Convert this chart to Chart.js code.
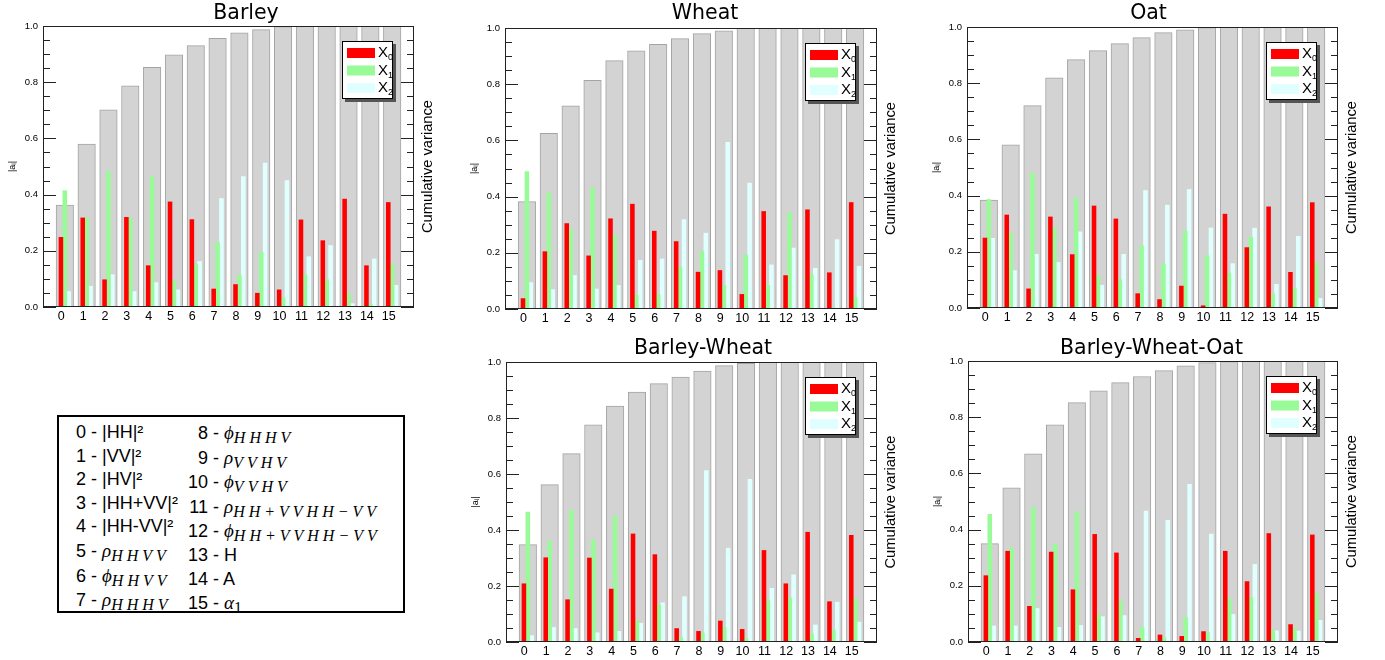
<!DOCTYPE html>
<html>
<head>
<meta charset="utf-8">
<script src="https://cdn.jsdelivr.net/npm/chart.js@4.4.1/dist/chart.umd.min.js"></script>
<style>
  body { margin: 0; background: #fff; width: 1385px; height: 660px; overflow: hidden; position: relative; }
  canvas { position: absolute; }
  #key { position: absolute; left: 57px; top: 415px; width: 348px; height: 198px; border: 2px solid #000;
         box-sizing: border-box; font: 18px "Liberation Sans", Arial, sans-serif; color: #000; }
  #key .col { position: absolute; top: 4px; line-height: 23.6px; white-space: nowrap; }
  #key .c1 { left: 17px; }
  #key .c2 { left: 127px; }
  #key .n { display: inline-block; width: 33px; text-align: right; }
  #key i { font-family: "Liberation Serif", "DejaVu Serif", serif; font-size: 19px; }
  #key sub { font-family: "Liberation Serif", "DejaVu Serif", serif; font-style: italic; font-size: 16px;
             letter-spacing: 4px; vertical-align: -4px; line-height: 0; }
  #key sub.up { font-style: normal; letter-spacing: 0; }
</style>
</head>
<body>
<canvas id="barley" width="492" height="330" style="left:0px;top:0px"></canvas>
<canvas id="wheat" width="490" height="330" style="left:460px;top:0px"></canvas>
<canvas id="oat" width="457" height="330" style="left:920px;top:0px"></canvas>
<canvas id="bw" width="486" height="330" style="left:460px;top:330px"></canvas>
<canvas id="bwo" width="463" height="330" style="left:920px;top:330px"></canvas>

<div id="key">
  <div class="col c1">
    <div>0 - |HH|²</div>
    <div>1 - |VV|²</div>
    <div>2 - |HV|²</div>
    <div>3 - |HH+VV|²</div>
    <div>4 - |HH-VV|²</div>
    <div>5 - <i>ρ</i><sub>HHVV</sub></div>
    <div>6 - <i>ϕ</i><sub>HHVV</sub></div>
    <div>7 - <i>ρ</i><sub>HHHV</sub></div>
  </div>
  <div class="col c2">
    <div><span class="n">8 -</span> <i>ϕ</i><sub>HHHV</sub></div>
    <div><span class="n">9 -</span> <i>ρ</i><sub>VVHV</sub></div>
    <div><span class="n">10 -</span> <i>ϕ</i><sub>VVHV</sub></div>
    <div><span class="n">11 -</span> <i>ρ</i><sub>HH+VVHH−VV</sub></div>
    <div><span class="n">12 -</span> <i>ϕ</i><sub>HH+VVHH−VV</sub></div>
    <div><span class="n">13 -</span> H</div>
    <div><span class="n">14 -</span> A</div>
    <div><span class="n">15 -</span> <i>α</i><sub class="up">1</sub></div>
  </div>
</div>

<script>
const components = [0, 1, 2, 3, 4, 5, 6, 7, 8, 9, 10, 11, 12, 13, 14, 15];
const seriesLabels = ['X0', 'X1', 'X2'];

const barleyCumVar = [0.363, 0.580, 0.702, 0.787, 0.853, 0.897, 0.930, 0.956, 0.976, 0.987, 0.998, 1, 1, 1, 1, 1];
const barleyX0 = [0.248, 0.317, 0.097, 0.319, 0.147, 0.374, 0.311, 0.064, 0.080, 0.049, 0.061, 0.310, 0.236, 0.384, 0.147, 0.372];
const barleyX1 = [0.414, 0.317, 0.482, 0.317, 0.463, 0.094, 0.151, 0.230, 0.113, 0.194, 0.034, 0.115, 0.097, 0.050, 0.011, 0.154];
const barleyX2 = [0.055, 0.074, 0.115, 0.055, 0.087, 0.061, 0.162, 0.386, 0.464, 0.512, 0.450, 0.179, 0.219, 0.012, 0.171, 0.077];

const wheatCumVar = [0.382, 0.625, 0.723, 0.814, 0.884, 0.919, 0.942, 0.962, 0.980, 0.990, 0.999, 1, 1, 1, 1, 1];
const wheatX0 = [0.037, 0.204, 0.304, 0.189, 0.321, 0.373, 0.277, 0.240, 0.131, 0.137, 0.052, 0.347, 0.119, 0.353, 0.129, 0.379];
const wheatX1 = [0.489, 0.413, 0.284, 0.431, 0.266, 0.049, 0.051, 0.148, 0.205, 0.084, 0.192, 0.084, 0.343, 0.122, 0.004, 0.042];
const wheatX2 = [0.094, 0.069, 0.119, 0.071, 0.084, 0.173, 0.178, 0.318, 0.270, 0.593, 0.448, 0.157, 0.217, 0.145, 0.247, 0.152];

const oatCumVar = [0.384, 0.581, 0.720, 0.819, 0.884, 0.916, 0.941, 0.962, 0.980, 0.990, 0.998, 1, 1, 1, 1, 1];
const oatX0 = [0.249, 0.331, 0.068, 0.324, 0.190, 0.363, 0.317, 0.051, 0.030, 0.078, 0.008, 0.334, 0.215, 0.360, 0.127, 0.375];
const oatX1 = [0.386, 0.267, 0.481, 0.286, 0.393, 0.116, 0.101, 0.221, 0.157, 0.273, 0.186, 0.124, 0.252, 0.051, 0.069, 0.160];
const oatX2 = [0.248, 0.133, 0.191, 0.162, 0.271, 0.081, 0.191, 0.418, 0.366, 0.422, 0.285, 0.158, 0.284, 0.084, 0.255, 0.034];

const bwCumVar = [0.348, 0.562, 0.673, 0.776, 0.843, 0.893, 0.923, 0.946, 0.968, 0.987, 0.995, 0.999, 1, 1, 1, 1];
const bwX0 = [0.208, 0.301, 0.151, 0.300, 0.189, 0.386, 0.312, 0.048, 0.038, 0.075, 0.045, 0.327, 0.208, 0.392, 0.144, 0.381];
const bwX1 = [0.464, 0.361, 0.470, 0.365, 0.451, 0.076, 0.133, 0.017, 0.032, 0.052, 0.013, 0.149, 0.157, 0.029, 0.042, 0.155];
const bwX2 = [0.023, 0.052, 0.048, 0.033, 0.038, 0.067, 0.140, 0.162, 0.612, 0.335, 0.581, 0.192, 0.240, 0.061, 0.142, 0.071];

const bwoCumVar = [0.350, 0.549, 0.670, 0.773, 0.852, 0.894, 0.923, 0.945, 0.966, 0.983, 0.994, 0.998, 1, 1, 1, 1];
const bwoX0 = [0.236, 0.323, 0.127, 0.320, 0.186, 0.383, 0.317, 0.013, 0.025, 0.020, 0.037, 0.323, 0.215, 0.386, 0.062, 0.381];
const bwoX1 = [0.454, 0.335, 0.478, 0.348, 0.463, 0.098, 0.147, 0.051, 0.015, 0.087, 0.033, 0.155, 0.159, 0.043, 0.049, 0.172];
const bwoX2 = [0.057, 0.057, 0.119, 0.052, 0.059, 0.090, 0.094, 0.466, 0.433, 0.561, 0.384, 0.098, 0.276, 0.040, 0.039, 0.077];

const seriesColors = ['#ff0000', '#98fb98', '#e0ffff'];

Chart.defaults.font.family = '"Liberation Sans", Arial, sans-serif';
Chart.defaults.color = '#000';

// inward ticks, frame, in-plot legend and the right-hand axis title
const frameTicks = {
  id: 'frameTicks',
  afterDatasetsDraw(chart) {
    const { ctx, chartArea: a } = chart;
    const y = chart.scales.y;
    ctx.save();
    ctx.strokeStyle = '#222';
    ctx.lineWidth = 1;
    ctx.beginPath();
    for (let k = 0; k <= 20; k++) {
      const py = Math.round(y.getPixelForValue(k * 0.05)) + 0.5;
      const len = k % 4 === 0 ? 13 : 7;
      ctx.moveTo(a.left, py); ctx.lineTo(a.left + len, py);
      ctx.moveTo(a.right, py); ctx.lineTo(a.right - len, py);
    }
    ctx.stroke();

    ctx.strokeRect(Math.round(a.left) + 0.5, Math.round(a.top) + 0.5, Math.round(a.width) - 1, Math.round(a.height) - 1);

    // legend box
    const entries = chart.data.datasets.filter(d => d.order === 0);
    const bw = 51, bh = 58;
    const bx = Math.round(a.right - 21 - bw), by = Math.round(a.top + 15);
    ctx.fillStyle = '#555';
    ctx.fillRect(bx + 3, by + 3, bw, bh);
    ctx.fillStyle = '#fff';
    ctx.fillRect(bx, by, bw, bh);
    ctx.strokeStyle = '#000';
    ctx.strokeRect(bx + 0.5, by + 0.5, bw - 1, bh - 1);
    ctx.textAlign = 'left';
    ctx.textBaseline = 'middle';
    entries.forEach((d, i) => {
      const cy = by + 12 + i * 17.5;
      ctx.fillStyle = d.backgroundColor;
      ctx.fillRect(bx + 5, cy - 5, 28, 10);
      ctx.fillStyle = '#000';
      ctx.font = '15px "Liberation Sans", Arial, sans-serif';
      ctx.fillText(d.label[0], bx + 36, cy);
      ctx.font = '9px "Liberation Sans", Arial, sans-serif';
      ctx.fillText(d.label.slice(1), bx + 46, cy + 5);
    });

    // right axis title, reading bottom to top
    const t = chart.options.scales.y2.title.text;
    ctx.translate(a.right + 14, (a.top + a.bottom) / 2);
    ctx.rotate(-Math.PI / 2);
    ctx.textAlign = 'center';
    ctx.font = '14.7px "Liberation Sans", Arial, sans-serif';
    ctx.fillText(t, 0, 0);
    ctx.restore();
  }
};

function makePanel(id, title, cum, x0, x1, x2, lay) {
  const series = [x0, x1, x2];
  const datasets = series.map((vals, i) => ({
    label: seriesLabels[i],
    data: vals,
    backgroundColor: seriesColors[i],
    borderWidth: 0,
    barThickness: 3.9,
    order: 0,
    yAxisID: 'y'
  }));
  datasets.push({
    label: 'Cumulative variance',
    data: cum,
    backgroundColor: '#d3d3d3',
    borderColor: '#a4a4a4',
    borderWidth: 1,
    barThickness: 17.5,
    grouped: false,
    order: 1,
    yAxisID: 'y2'
  });

  const padTop = lay.tcy - 10.25;
  new Chart(document.getElementById(id), {
    type: 'bar',
    data: { labels: components, datasets },
    plugins: [frameTicks],
    options: {
      responsive: false,
      animation: false,
      layout: { padding: 0 },
      plugins: {
        legend: { display: false },
        tooltip: { enabled: false },
        title: {
          display: true,
          text: title,
          color: '#000',
          font: { family: '"DejaVu Sans", sans-serif', size: 20.5, weight: 'normal', lineHeight: 1 },
          padding: { top: padTop, bottom: lay.th - 20.5 - padTop }
        }
      },
      scales: {
        x: {
          type: 'linear',
          min: -1,
          max: 16,
          offset: false,
          grid: { display: false, drawTicks: false },
          border: { display: false },
          ticks: {
            stepSize: 1,
            autoSkip: false,
            maxRotation: 0,
            padding: 2,
            labelOffset: -3.5,
            font: { size: 12.5 },
            callback: v => (v >= 0 && v <= 15 ? String(v) : '')
          },
          afterFit: s => { s.height = lay.xh; }
        },
        y: {
          position: 'left',
          min: 0,
          max: 1,
          grid: { display: false, drawTicks: false },
          border: { display: false },
          ticks: { stepSize: 0.2, padding: 5, font: { size: 9.5 }, callback: v => v.toFixed(1) },
          title: { display: true, text: '|aᵢ|', font: { size: 9 }, padding: { top: lay.lw - 30 - 5.4, bottom: 0 } },
          afterFit: s => { s.width = lay.lw; }
        },
        y2: {
          position: 'right',
          min: 0,
          max: 1,
          grid: { display: false, drawTicks: false },
          border: { display: false },
          ticks: { display: false },
          title: { display: false, text: 'Cumulative variance' },
          afterFit: s => { s.width = lay.rw; }
        }
      }
    }
  });
}

makePanel('barley', 'Barley', barleyCumVar, barleyX0, barleyX1, barleyX2, { lw: 43, rw: 78, th: 26, xh: 23, tcy: 13.5 });
makePanel('wheat', 'Wheat', wheatCumVar, wheatX0, wheatX1, wheatX2, { lw: 45, rw: 73, th: 28, xh: 21, tcy: 14 });
makePanel('oat', 'Oat', oatCumVar, oatX0, oatX1, oatX2, { lw: 47, rw: 39, th: 27, xh: 22, tcy: 14 });
makePanel('bw', 'Barley-Wheat', bwCumVar, bwX0, bwX1, bwX2, { lw: 46, rw: 69, th: 32, xh: 18, tcy: 19 });
makePanel('bwo', 'Barley-Wheat-Oat', bwoCumVar, bwoX0, bwoX1, bwoX2, { lw: 48, rw: 45, th: 31, xh: 18, tcy: 19 });
</script>
</body>
</html>
